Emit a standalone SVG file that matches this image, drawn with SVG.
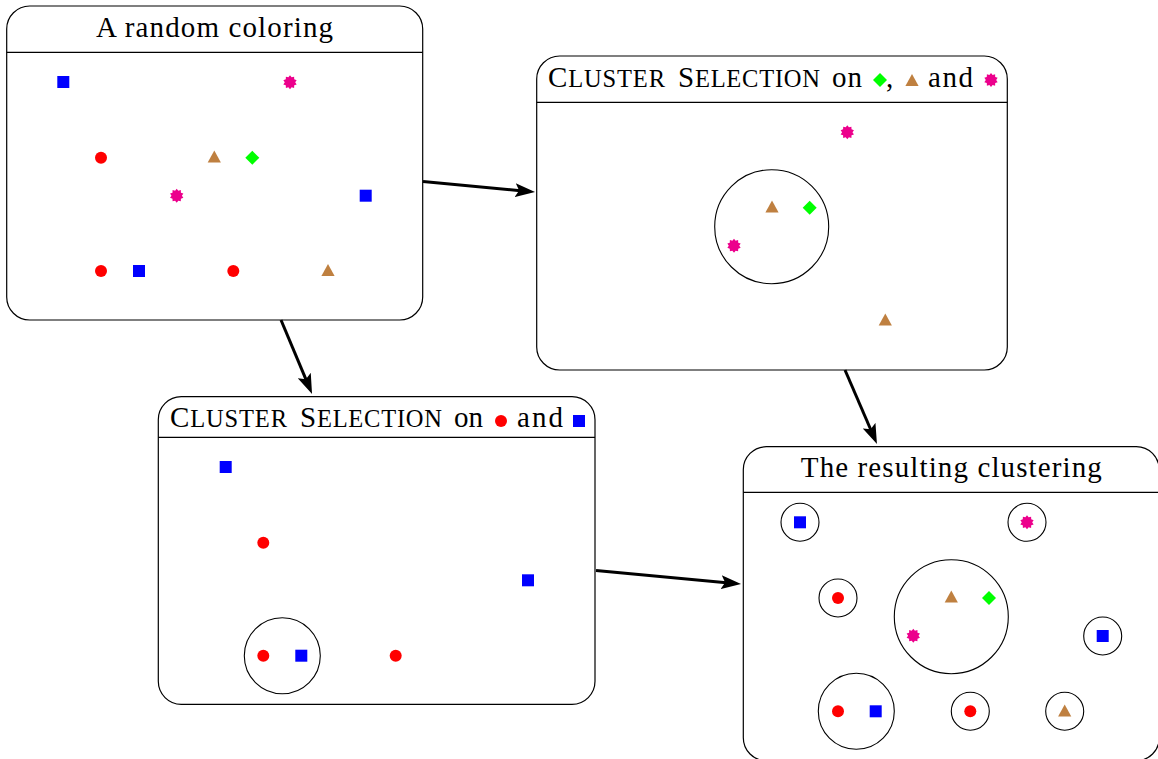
<svg xmlns="http://www.w3.org/2000/svg" width="1158" height="759" viewBox="0 0 1158 759">
<style>
.frame{fill:#fff;stroke:#000;stroke-width:1.2}
.hdr{stroke:#000;stroke-width:1.2}
.title{font-family:"Liberation Serif","DejaVu Serif",serif;font-size:29px;fill:#000}
.s{font-size:24.5px}
.ring{fill:none;stroke:#000;stroke-width:1.1}
.conn{fill:none;stroke:#000;stroke-width:3}
</style>
<defs>
<rect id="sq" x="-6" y="-6" width="12" height="12" fill="#0000FF"/>
<circle id="dot" r="6" fill="#FF0000"/>
<polygon id="tri" points="0,-7 6.6,5 -6.6,5" fill="#BF8040"/>
<polygon id="dia" points="0,-7 7,0 0,7 -7,0" fill="#00FF00"/>
<polygon id="star" fill="#EC008C" points="0,-7 1.61,-4.95 4.11,-5.66 4.21,-3.06 6.66,-2.16 5.2,0 6.66,2.16 4.21,3.06 4.11,5.66 1.61,4.95 0,7 -1.61,4.95 -4.11,5.66 -4.21,3.06 -6.66,2.16 -5.2,0 -6.66,-2.16 -4.21,-3.06 -4.11,-5.66 -1.61,-4.95"/>
<marker id="arr" viewBox="0 0 20 14" markerWidth="20" markerHeight="14" markerUnits="userSpaceOnUse" refX="8" refY="7" orient="auto">
<path d="M0,0 L20,7 L0,14 L4,7 z" fill="#000"/>
</marker>
</defs>

<g id="node-random">
<rect class="frame" x="6.7" y="6" width="416" height="314" rx="23" ry="23"/>
<line class="hdr" x1="6.7" y1="52.3" x2="422.7" y2="52.3"/>
<text class="title" x="214.5" y="37" text-anchor="middle" textLength="237">A random coloring</text>
<use href="#sq" x="63.3" y="82"/>
<use href="#star" x="290" y="82.3"/>
<use href="#dot" x="101" y="157.7"/>
<use href="#tri" x="214.3" y="157.5"/>
<use href="#dia" x="252.3" y="157.7"/>
<use href="#star" x="176.7" y="195.7"/>
<use href="#sq" x="365.7" y="195.7"/>
<use href="#dot" x="101" y="271"/>
<use href="#sq" x="139" y="271"/>
<use href="#dot" x="233.3" y="271"/>
<use href="#tri" x="328" y="271"/>
</g>

<g id="node-sel1">
<rect class="frame" x="536.7" y="56" width="470.6" height="314" rx="23" ry="23"/>
<line class="hdr" x1="536.7" y1="102.3" x2="1007.3" y2="102.3"/>
<text class="title" x="548" y="87" textLength="117">C<tspan class="s">LUSTER</tspan></text>
<text class="title" x="678" y="87" textLength="142">S<tspan class="s">ELECTION</tspan></text>
<text class="title" x="832" y="87" textLength="30">on</text>
<use href="#dia" x="880" y="80"/>
<text class="title" x="886" y="87">,</text>
<use href="#tri" x="912" y="81"/>
<text class="title" x="928" y="87" textLength="45">and</text>
<use href="#star" x="991" y="80"/>
<use href="#star" x="847.3" y="132.3"/>
<circle class="ring" cx="771.7" cy="226.7" r="57"/>
<use href="#tri" x="772" y="207.5"/>
<use href="#dia" x="809.7" y="207.7"/>
<use href="#star" x="734" y="245.7"/>
<use href="#tri" x="885.3" y="320.5"/>
</g>

<g id="node-sel2">
<rect class="frame" x="158.3" y="396.7" width="436.7" height="307.6" rx="23" ry="23"/>
<line class="hdr" x1="158.3" y1="437.3" x2="595" y2="437.3"/>
<text class="title" x="170" y="427" textLength="117">C<tspan class="s">LUSTER</tspan></text>
<text class="title" x="300" y="427" textLength="142">S<tspan class="s">ELECTION</tspan></text>
<text class="title" x="454" y="427" textLength="29">on</text>
<use href="#dot" x="501" y="421"/>
<text class="title" x="517" y="427" textLength="46">and</text>
<use href="#sq" x="579" y="421"/>
<use href="#sq" x="225.7" y="467"/>
<use href="#dot" x="263.3" y="542.7"/>
<use href="#sq" x="528" y="580.3"/>
<circle class="ring" cx="282.3" cy="655.7" r="38"/>
<use href="#dot" x="263.3" y="655.7"/>
<use href="#sq" x="301.3" y="655.7"/>
<use href="#dot" x="395.7" y="655.7"/>
</g>

<g id="node-result">
<rect class="frame" x="743.3" y="446.7" width="416" height="314" rx="23" ry="23"/>
<line class="hdr" x1="743.3" y1="492.3" x2="1159.3" y2="492.3"/>
<text class="title" x="951.3" y="477" text-anchor="middle" textLength="301">The resulting clustering</text>
<circle class="ring" cx="800" cy="522.3" r="19"/>
<use href="#sq" x="800" y="522.3"/>
<circle class="ring" cx="1027" cy="522.3" r="19"/>
<use href="#star" x="1027" y="522.3"/>
<circle class="ring" cx="838" cy="598" r="19"/>
<use href="#dot" x="838" y="598"/>
<circle class="ring" cx="951.3" cy="616.7" r="57"/>
<use href="#tri" x="951.3" y="597.5"/>
<use href="#dia" x="989" y="598"/>
<use href="#star" x="913.3" y="635.7"/>
<circle class="ring" cx="1102.7" cy="636" r="19"/>
<use href="#sq" x="1102.7" y="636"/>
<circle class="ring" cx="856.3" cy="711.3" r="38"/>
<use href="#dot" x="838" y="711.3"/>
<use href="#sq" x="875.7" y="711.3"/>
<circle class="ring" cx="970.3" cy="711.3" r="19"/>
<use href="#dot" x="970.3" y="711.3"/>
<circle class="ring" cx="1064.7" cy="711.3" r="19"/>
<use href="#tri" x="1064.7" y="711.5"/>
</g>

<g id="connectors">
<path class="conn" d="M423,181.5 L523.1,190.9" marker-end="url(#arr)"/>
<path class="conn" d="M281,320 L307.4,382.9" marker-end="url(#arr)"/>
<path class="conn" d="M845,370 L872.2,433" marker-end="url(#arr)"/>
<path class="conn" d="M596,570.5 L729.1,582.9" marker-end="url(#arr)"/>
</g>
</svg>
